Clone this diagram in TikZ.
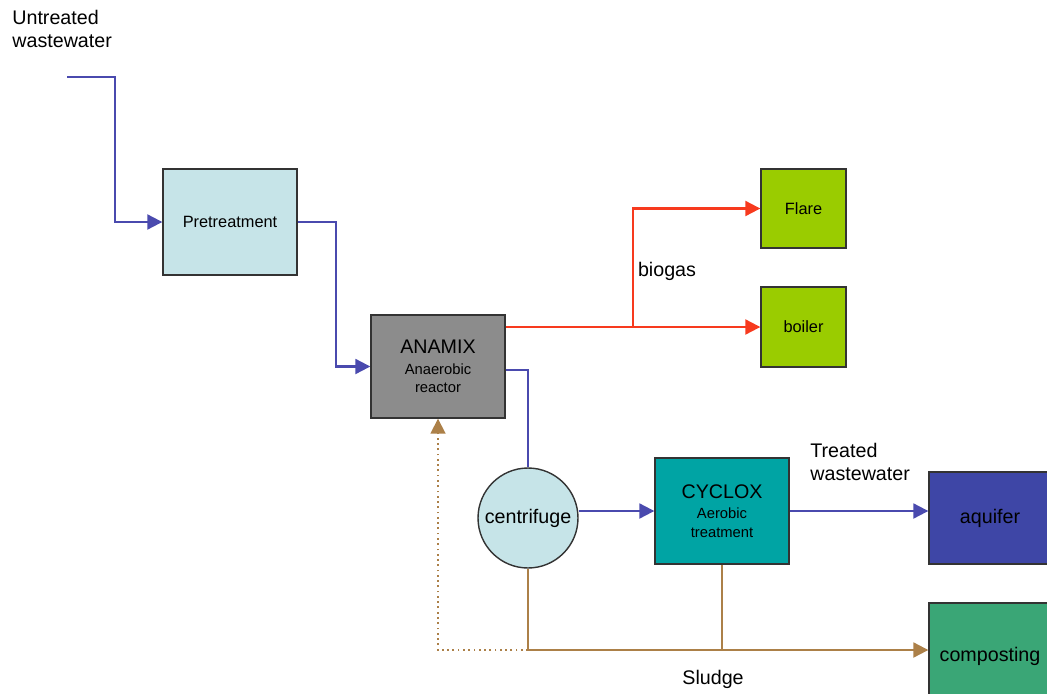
\documentclass[tikz,border=0pt]{standalone}
\usepackage{fontspec}
\setmainfont{Liberation Sans}
\usetikzlibrary{arrows.meta}

\definecolor{paleblue}{HTML}{C6E4E8}
\definecolor{anagray}{HTML}{8C8C8C}
\definecolor{gasgreen}{HTML}{9ACC00}
\definecolor{cycteal}{HTML}{00A4A4}
\definecolor{aquiblue}{HTML}{3E46A6}
\definecolor{compgreen}{HTML}{3AA676}
\definecolor{boxline}{HTML}{333333}
\definecolor{waterblue}{HTML}{4A4AAE}
\definecolor{gasred}{HTML}{F73A1E}
\definecolor{sludgebrown}{HTML}{AC8048}

\newcommand{\bigtext}{\fontsize{11.2}{13}\selectfont}
\newcommand{\midtext}{\fontsize{9.3}{11}\selectfont}
\newcommand{\smalltext}{\fontsize{8.4}{9.5}\selectfont}

\begin{document}
\begin{tikzpicture}[x=0.02cm,y=-0.02cm,
    unit/.style={draw=boxline,line width=0.8pt,inner sep=2pt,align=center,font=\bigtext},
    label/.style={inner sep=0pt,align=left,font=\bigtext},
    tip/.style={-{Triangle[length=8.5pt,width=8.5pt]}},
    water/.style={draw=waterblue,line width=1.2pt},
    gas/.style={draw=gasred,line width=1.2pt},
    sludge/.style={draw=sludgebrown,line width=1.2pt}]
    \clip (0,0) rectangle (1047,693);

    \node[label,anchor=north west] (Untreated) at (12,10) {Untreated\\wastewater};
    \coordinate (InStart) at (67,77);

    \node[unit,fill=paleblue,minimum width=2.68cm,minimum height=2.12cm,font=\midtext] (Pretreatment) at (230,222) {Pretreatment};
    \node[unit,fill=anagray,minimum width=2.68cm,minimum height=2.06cm] (Anamix) at (438,366.5) {ANAMIX\\[-1.5pt]\smalltext Anaerobic\\[-2.5pt]\smalltext reactor};
    \node[unit,fill=gasgreen,minimum width=1.7cm,minimum height=1.58cm,font=\midtext] (Flare) at (803.5,208.5) {Flare};
    \node[unit,fill=gasgreen,minimum width=1.7cm,minimum height=1.6cm,font=\midtext] (Boiler) at (803.5,327) {boiler};
    \node[unit,circle,fill=paleblue,minimum size=2cm,inner sep=0pt] (Centrifuge) at (528,518) {centrifuge};
    \node[unit,fill=cycteal,minimum width=2.68cm,minimum height=2.12cm] (Cyclox) at (722,511) {CYCLOX\\[-1.5pt]\smalltext Aerobic\\[-2.5pt]\smalltext treatment};
    \node[unit,fill=aquiblue,minimum width=2.44cm,minimum height=1.84cm] (Aquifer) at (990,518) {aquifer};
    \node[unit,fill=compgreen,minimum width=2.44cm,minimum height=2.12cm] (Composting) at (990,656) {composting};

    \node[label] (Biogas) at (667,271) {biogas};
    \node[label,anchor=north west] (Treated) at (810,443) {Treated\\wastewater};
    \node[label] (Sludge) at (713,679) {Sludge};

    \coordinate (GasSplit) at (633,327);
    \coordinate (SludgeJoin) at (528,650);

    \draw[water,tip] (InStart) -- ++(48,0) |- (Pretreatment.west);
    \draw[water,tip] (Pretreatment.east) -- ++(38,0) |- (Anamix.west);
    \draw[gas,tip] (Anamix.east |- Boiler.west) to (Boiler.west);
    \draw[gas,tip] (GasSplit) |- (Flare.west);
    \draw[draw=waterblue,line width=0.8pt] ([yshift=-0.07cm]Anamix.east) -| (Centrifuge.north);
    \draw[water,tip] (Centrifuge.east |- Cyclox.west) to (Cyclox.west);
    \draw[water,tip] (Cyclox.east) to (Cyclox.east -| Aquifer.west);
    \draw[sludge] (Centrifuge.south) to (SludgeJoin);
    \draw[sludge] (Cyclox.south) to (Cyclox.south |- SludgeJoin);
    \draw[sludge,tip] (SludgeJoin) to (SludgeJoin -| Composting.west);
    \draw[sludge,line width=1pt,dotted,tip] (SludgeJoin) -| (Anamix.south);
\end{tikzpicture}
\end{document}
